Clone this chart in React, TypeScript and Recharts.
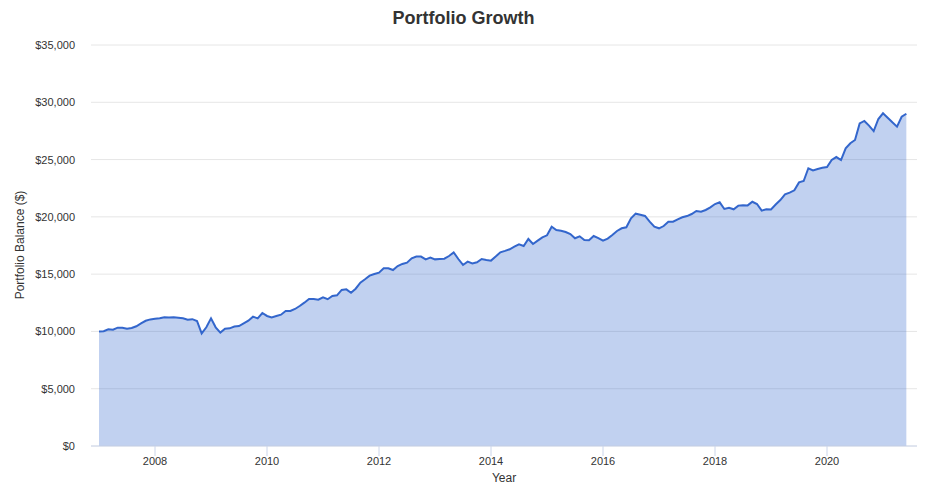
import { AreaChart, Area, XAxis, YAxis, CartesianGrid } from 'recharts';

// monthly portfolio balance, Jan 2007 onward
const START_YEAR = 2007;
const balances = [
  10000, 10020, 10180, 10150, 10330, 10320, 10230, 10300, 10450, 10700, 10930, 11050,
  11100, 11150, 11230, 11220, 11230, 11200, 11150, 11030, 11070, 10910, 9830, 10360,
  11140, 10360, 9900, 10240, 10270, 10430, 10470, 10700, 10940, 11290, 11140, 11610,
  11350, 11230, 11350, 11460, 11780, 11780, 11960, 12220, 12510, 12830, 12830, 12770,
  12980, 12810, 13090, 13150, 13620, 13670, 13380, 13730, 14260, 14550, 14870, 15010,
  15130, 15510, 15510, 15360, 15710, 15890, 16000, 16380, 16530, 16530, 16290, 16440,
  16290, 16320, 16350, 16580, 16900, 16320, 15800, 16090, 15940, 16030, 16320, 16240,
  16180, 16530, 16900, 17030, 17170, 17400, 17600, 17460, 18070, 17630, 17920, 18210,
  18390, 19140, 18850, 18790, 18680, 18500, 18130, 18300, 17980, 17950, 18330, 18150,
  17920, 18100, 18420, 18770, 19000, 19090, 19870, 20280, 20190, 20080, 19580, 19140,
  19000, 19200, 19580, 19580, 19780, 19960, 20070, 20250, 20510, 20450, 20600, 20830,
  21120, 21270, 20690, 20800, 20660, 20980, 21020, 21000, 21320, 21120, 20540, 20660,
  20650, 21080, 21470, 21970, 22110, 22320, 23010, 23130, 24240, 24060, 24180, 24290,
  24350, 24960, 25220, 24960, 25980, 26420, 26710, 28160, 28370, 27960, 27490, 28540,
  29040, 28650, 28250, 27870, 28740, 29000,
];
const yearTicks = [2008, 2010, 2012, 2014, 2016, 2018, 2020];
const balanceTicks = [0, 5000, 10000, 15000, 20000, 25000, 30000, 35000];

const chartData = balances.map((value, i) => ({ t: START_YEAR + i / 12, value }));

const FONT = '"Liberation Sans", Arial, Helvetica, sans-serif';

const YearTick = ({ x, y, payload }: any) => (
  <text x={x} y={y + 9} textAnchor='middle' fill='#333333' fontSize={11} fontFamily={FONT}>
    {payload.value}
  </text>
);

const BalanceTick = ({ x, y, payload }: any) => (
  <text x={x} y={y + 4} textAnchor='end' fill='#333333' fontSize={11} fontFamily={FONT}>
    {`$${payload.value.toLocaleString('en-US')}`}
  </text>
);

const App = () => {
  return (
    <div
      style={{
        position: 'absolute',
        left: 0,
        top: 0,
        width: 927,
        height: 500,
        background: '#fff',
        fontFamily: FONT,
      }}
    >
      <div
        style={{
          position: 'absolute',
          top: 8,
          left: 0,
          width: 927,
          textAlign: 'center',
          fontSize: 18,
          lineHeight: '20px',
          fontWeight: 'bold',
          color: '#333333',
        }}
      >
        Portfolio Growth
      </div>

      <AreaChart
        width={927}
        height={500}
        data={chartData}
        margin={{ top: 45, right: 10, bottom: 24, left: 31 }}
      >
        <CartesianGrid vertical={false} stroke='#e6e6e6' />
        <XAxis
          dataKey='t'
          type='number'
          domain={[2006.857, 2021.607]}
          ticks={yearTicks}
          allowDataOverflow
          stroke='#ccd6eb'
          tickSize={10}
          tickMargin={0}
          tick={<YearTick />}
          height={30}
        />
        <YAxis
          type='number'
          domain={[0, 35000]}
          ticks={balanceTicks}
          axisLine={false}
          tickLine={false}
          tickSize={0}
          tickMargin={16}
          width={60}
          tick={<BalanceTick />}
        />
        <Area
          type='linear'
          dataKey='value'
          stroke='#3366cc'
          strokeWidth={2}
          fill='#3366cc'
          fillOpacity={0.3}
          dot={false}
          activeDot={false}
          isAnimationActive={false}
        />
      </AreaChart>

      <div
        style={{
          position: 'absolute',
          top: 471,
          left: 91,
          width: 826,
          textAlign: 'center',
          fontSize: 12,
          lineHeight: '14px',
          color: '#333333',
        }}
      >
        Year
      </div>
      <div
        style={{
          position: 'absolute',
          left: 20,
          top: 245,
          transform: 'translate(-50%, -50%) rotate(-90deg)',
          whiteSpace: 'nowrap',
          fontSize: 12,
          lineHeight: '14px',
          color: '#333333',
        }}
      >
        Portfolio Balance ($)
      </div>
    </div>
  );
};

export default App;
